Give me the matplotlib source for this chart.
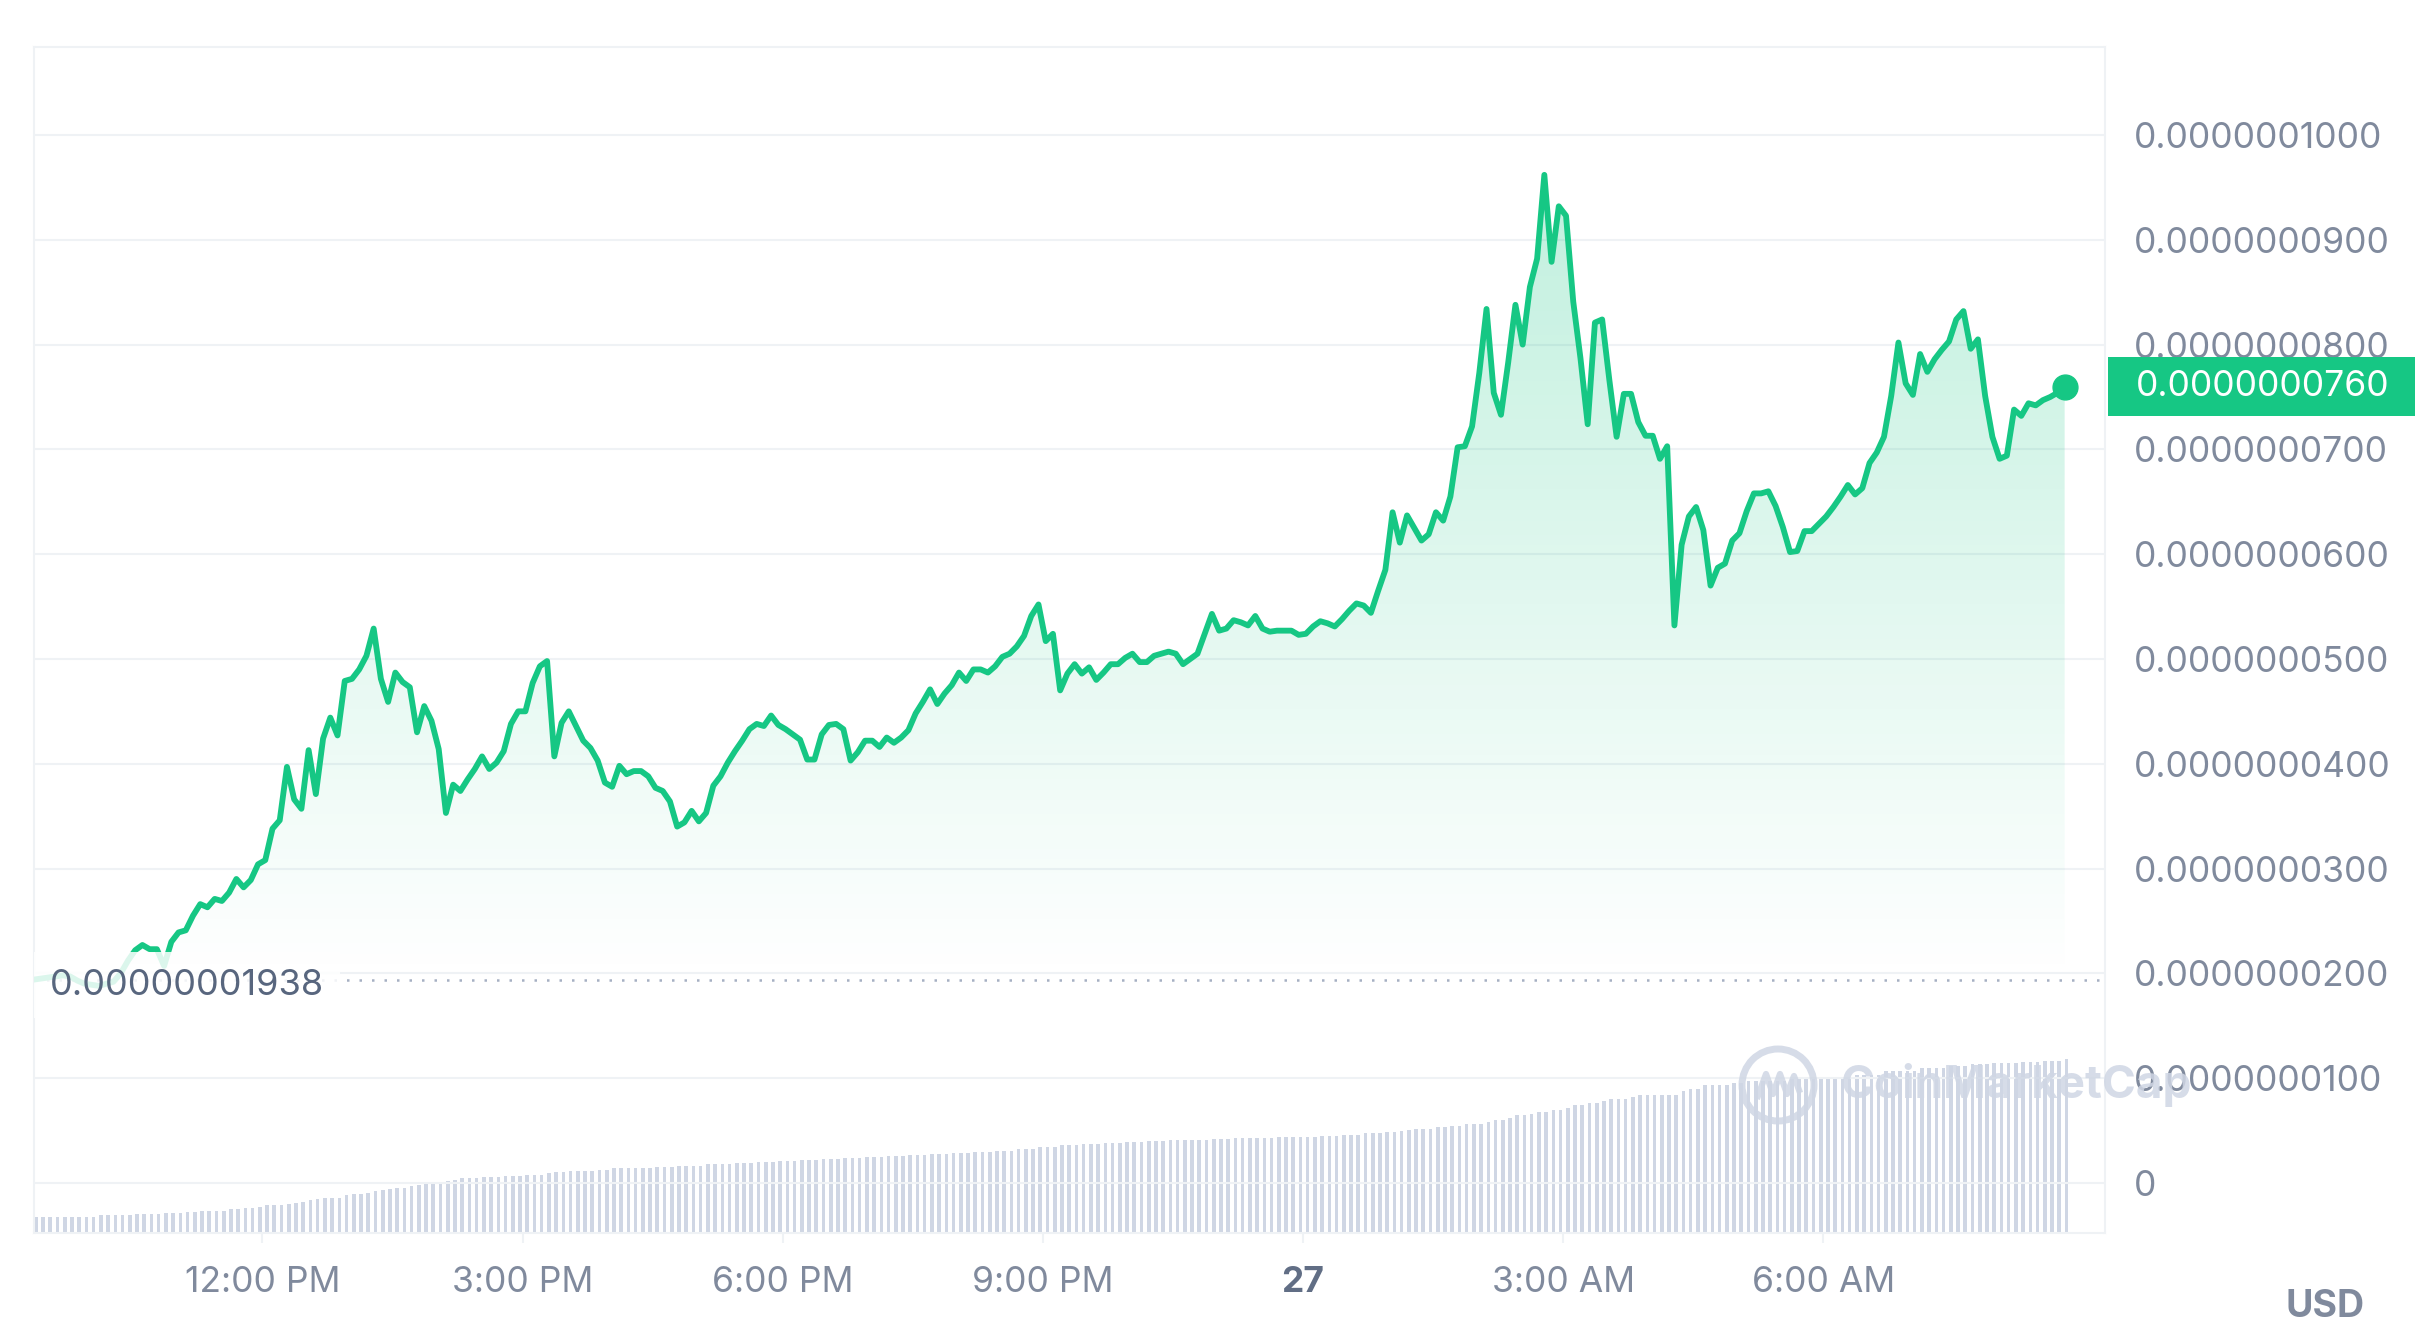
import matplotlib
matplotlib.use('Agg')
import matplotlib.pyplot as plt
import matplotlib.dates as mdates
import matplotlib.transforms as mtransforms
from matplotlib.colors import ListedColormap, to_rgb
from matplotlib.patches import Rectangle, Circle
from matplotlib.lines import Line2D
import numpy as np
import pandas as pd

plt.rcParams['font.family'] = ['Inter', 'DejaVu Sans']

# price in units of 1e-8 USD, one point every 5 minutes
price_e8 = [
    1.94, 1.95, 1.96, 1.97, 1.98, 1.97, 1.93, 1.90, 1.89, 1.88, 1.90, 1.92,
    2.00, 2.12, 2.22, 2.27, 2.23, 2.23, 2.07, 2.30, 2.39, 2.41, 2.55, 2.66,
    2.63, 2.71, 2.69, 2.77, 2.90, 2.82, 2.89, 3.04, 3.08, 3.38, 3.46, 3.97,
    3.66, 3.57, 4.13, 3.71, 4.24, 4.44, 4.27, 4.79, 4.81, 4.90, 5.03, 5.29,
    4.81, 4.59, 4.87, 4.78, 4.73, 4.30, 4.55, 4.41, 4.14, 3.53, 3.80, 3.74,
    3.85, 3.95, 4.07, 3.95, 4.01, 4.12, 4.38, 4.50, 4.50, 4.77, 4.93, 4.98,
    4.07, 4.39, 4.50, 4.36, 4.22, 4.15, 4.03, 3.82, 3.78, 3.98, 3.90, 3.93,
    3.93, 3.88, 3.77, 3.74, 3.64, 3.40, 3.44, 3.55, 3.45, 3.53, 3.79, 3.88,
    4.01, 4.12, 4.22, 4.33, 4.38, 4.36, 4.46, 4.37, 4.33, 4.28, 4.23, 4.04,
    4.04, 4.28, 4.37, 4.38, 4.33, 4.03, 4.11, 4.22, 4.22, 4.16, 4.25, 4.20,
    4.25, 4.32, 4.48, 4.59, 4.71, 4.57, 4.67, 4.75, 4.87, 4.79, 4.90, 4.90,
    4.87, 4.93, 5.02, 5.05, 5.12, 5.22, 5.41, 5.52, 5.17, 5.24, 4.70, 4.86,
    4.95, 4.86, 4.92, 4.80, 4.87, 4.95, 4.95, 5.01, 5.05, 4.97, 4.97, 5.03,
    5.05, 5.07, 5.05, 4.95, 5.00, 5.05, 5.24, 5.43, 5.27, 5.29, 5.37, 5.35,
    5.32, 5.41, 5.29, 5.26, 5.27, 5.27, 5.27, 5.23, 5.24, 5.31, 5.36, 5.34,
    5.31, 5.38, 5.46, 5.53, 5.51, 5.44, 5.65, 5.85, 6.40, 6.11, 6.37, 6.25,
    6.13, 6.19, 6.40, 6.32, 6.55, 7.02, 7.03, 7.22, 7.73, 8.34, 7.54, 7.33,
    7.83, 8.38, 8.00, 8.55, 8.82, 9.62, 8.79, 9.32, 9.23, 8.41, 7.87, 7.24,
    8.21, 8.24, 7.66, 7.12, 7.53, 7.53, 7.26, 7.13, 7.13, 6.91, 7.03, 5.32,
    6.09, 6.36, 6.45, 6.23, 5.70, 5.87, 5.91, 6.13, 6.20, 6.41, 6.58, 6.58,
    6.60, 6.46, 6.26, 6.02, 6.03, 6.22, 6.22, 6.29, 6.36, 6.45, 6.55, 6.66,
    6.57, 6.63, 6.87, 6.97, 7.12, 7.51, 8.02, 7.63, 7.52, 7.91, 7.74, 7.86,
    7.95, 8.03, 8.24, 8.32, 7.96, 8.05, 7.51, 7.12, 6.91, 6.94, 7.38, 7.32,
    7.44, 7.42, 7.47, 7.50, 7.54, 7.60,
]

# 24h volume (arbitrary units) per 5 minute bar
volume_k = [
    16.0, 16.0, 16.0, 16.0, 16.0, 16.0, 16.0, 16.0, 16.0, 17.7, 17.7, 17.7,
    17.7, 17.7, 18.7, 18.7, 18.7, 18.7, 19.7, 19.7, 19.7, 21.0, 21.0, 22.3,
    22.3, 22.3, 22.3, 23.7, 23.7, 25.0, 25.0, 26.3, 27.7, 27.7, 27.7, 28.7,
    30.0, 31.3, 32.7, 34.0, 35.3, 35.3, 35.3, 37.7, 39.0, 39.0, 40.3, 41.7,
    43.0, 44.3, 45.3, 45.3, 46.7, 48.0, 49.3, 49.3, 50.7, 52.0, 53.3, 54.7,
    54.7, 54.7, 55.7, 55.7, 55.7, 57.0, 57.0, 57.0, 58.3, 58.3, 58.3, 59.7,
    61.0, 61.0, 62.0, 62.0, 62.0, 62.0, 63.3, 63.3, 64.7, 64.7, 64.7, 64.7,
    64.7, 64.7, 66.0, 66.0, 66.0, 67.3, 67.3, 67.3, 67.3, 68.7, 68.7, 68.7,
    68.7, 69.5, 69.5, 69.5, 70.5, 70.5, 70.5, 72.0, 72.0, 72.0, 73.0, 73.0,
    73.0, 74.0, 74.0, 74.0, 75.0, 75.0, 75.0, 76.0, 76.0, 76.0, 77.0, 77.0,
    77.0, 78.0, 78.0, 78.0, 79.0, 79.0, 79.0, 80.0, 80.0, 80.0, 81.0, 81.0,
    81.0, 82.0, 82.0, 82.0, 83.5, 83.5, 83.5, 85.5, 85.5, 85.5, 87.5, 87.5,
    87.5, 89.0, 89.0, 89.0, 90.0, 90.0, 90.0, 91.0, 91.0, 91.0, 92.0, 92.0,
    92.0, 92.5, 92.5, 92.5, 93.0, 93.0, 93.0, 94.0, 94.0, 94.0, 94.5, 94.5,
    94.5, 95.0, 95.0, 95.0, 95.5, 95.5, 95.5, 96.0, 96.0, 96.0, 97.0, 97.0,
    97.0, 98.0, 98.0, 98.0, 99.5, 99.5, 99.5, 100.7, 100.7, 101.7, 102.7, 104.3,
    104.3, 104.3, 105.7, 105.7, 107.0, 107.0, 109.3, 109.3, 109.3, 111.0, 113.3, 113.3,
    114.7, 117.7, 117.7, 119.0, 120.7, 120.7, 123.0, 123.0, 124.7, 127.7, 127.7, 129.7,
    129.7, 131.7, 134.0, 134.0, 134.0, 135.7, 137.7, 137.7, 137.7, 137.7, 137.7, 137.7,
    142.3, 144.3, 144.3, 147.7, 147.7, 147.7, 148.3, 150.3, 150.3, 152.0, 152.0, 152.0,
    152.0, 152.0, 152.0, 154.0, 154.0, 154.0, 154.0, 154.0, 154.0, 155.7, 155.7, 155.7,
    158.3, 158.3, 158.3, 158.3, 161.7, 161.7, 161.7, 161.7, 161.7, 165.0, 165.0, 165.0,
    165.0, 167.3, 167.3, 167.3, 168.7, 168.7, 168.7, 169.7, 169.7, 169.7, 169.7, 171.0,
    171.0, 171.0, 172.3, 172.3, 172.3, 173.7,
]

times = pd.date_range('2024-03-26 09:22', periods=len(price_e8), freq='5min')
base_e8 = 1.938
tick_times = pd.to_datetime(['2024-03-26 12:00', '2024-03-26 15:00', '2024-03-26 18:00',
                             '2024-03-26 21:00', '2024-03-27 00:00', '2024-03-27 03:00',
                             '2024-03-27 06:00'])
tick_labels = ['12:00 PM', '3:00 PM', '6:00 PM', '9:00 PM', '27', '3:00 AM', '6:00 AM']
y_ticks_e8 = [0, 1, 2, 3, 4, 5, 6, 7, 8, 9, 10]

green = '#16c784'
grey_txt = '#808a9d'
grid_c = '#eff2f5'
bar_c = '#cfd6e4'
fs = 25.5

price = np.array(price_e8) * 1e-8
base = base_e8 * 1e-8
x = mdates.date2num(times)
step = x[1] - x[0]

fig = plt.figure(figsize=(24.3, 13.4), dpi=100, facecolor='white')
ax = fig.add_axes([0.0140, 0.0799, 0.8523, 0.8850])
ax2 = ax.twinx()
ax.set_zorder(2)
ax2.set_zorder(1)
ax.patch.set_visible(False)

# volume bars
ax2.bar(x, volume_k, width=0.5 * step, align='edge', color=bar_c, linewidth=0)
ax2.set_ylim(0, 1185)
ax2.set_yticks([])
for s in ax2.spines.values():
    s.set_visible(False)

# gradient area under the price, down to the opening price
poly = ax.fill_between(x, price, base, facecolor='none', edgecolor='none')
cols = np.zeros((256, 4))
cols[:, :3] = to_rgb(green)
cols[:, 3] = np.linspace(0.0, 0.30, 256)
img = ax.imshow(np.linspace(0, 1, 256).reshape(-1, 1), cmap=ListedColormap(cols),
                origin='lower', aspect='auto', interpolation='bicubic',
                extent=[x[0], x[-1], base, 10.5e-8], zorder=2)
img.set_clip_path(poly.get_paths()[0], transform=ax.transData)

ax.axhline(base, color='#a6b0c3', lw=1.8, ls=(0, (1, 4)), zorder=3)
ax.plot(x, price, color=green, lw=4.2, solid_joinstyle='round', zorder=4)
ax.scatter(x[-1], price[-1], s=320, color=green, zorder=7, clip_on=False)

trans = mtransforms.blended_transform_factory(ax.transAxes, ax.transData)
ax.text(0.0077, base - 0.05e-8, '0.00000001938', transform=trans, ha='left', va='center',
        fontsize=fs + 0.5, color='#58667e', zorder=5,
        bbox=dict(boxstyle='square,pad=0.45', fc='white', ec='none', alpha=0.85))

# current price tag
ax.add_patch(Rectangle((1.0014, price[-1] - 0.282e-8), 0.1482, 0.564e-8, transform=trans,
                       facecolor=green, edgecolor='none', clip_on=False, zorder=6))
ax.text(1.0150, price[-1], '%.10f' % price[-1], transform=trans, ha='left', va='center',
        fontsize=fs, color='white', zorder=7, clip_on=False)

ax.set_yticks(np.array(y_ticks_e8) * 1e-8)
ax.set_yticklabels(['0' if v == 0 else '%.10f' % (v * 1e-8) for v in y_ticks_e8])
ax.yaxis.tick_right()
ax.tick_params(axis='y', length=0, pad=21, labelsize=fs, labelcolor=grey_txt)
ax.grid(axis='y', color=grid_c, lw=1.5)
ax.set_axisbelow(True)

ax.set_xticks(mdates.date2num(tick_times))
ax.set_xticklabels(tick_labels)
ax.tick_params(axis='x', length=7, width=1.5, color=grid_c, pad=17, labelsize=fs,
               labelcolor=grey_txt)
for lab in ax.get_xticklabels():
    if lab.get_text() == '27':
        lab.set_fontweight('bold')
        lab.set_color('#616e85')

for s in ax.spines.values():
    s.set_color(grid_c)
    s.set_linewidth(1.5)

ax.set_xlim(x[0], x[0] + 286.6 * step)
ax.set_ylim(-0.478e-8, 10.84e-8)

# watermark
wm = '#cfd6e4'
fig.add_artist(Circle((17.78, 2.55), 0.36, transform=fig.dpi_scale_trans, fill=False,
                      edgecolor=wm, lw=5, zorder=10, alpha=0.85))
fig.add_artist(Line2D([17.58, 17.66, 17.73, 17.80, 17.87, 17.94, 17.99],
                      [2.44, 2.66, 2.46, 2.66, 2.46, 2.64, 2.50],
                      transform=fig.dpi_scale_trans, color=wm, lw=4.5, zorder=10, alpha=0.85))
fig.text(0.7576, 0.1903, 'CoinMarketCap', ha='left', va='center', fontsize=33,
         fontweight='bold', color=wm, alpha=0.85, zorder=10)

fig.text(0.9568, 0.0246, 'USD', ha='center', va='center', fontsize=27,
         fontweight='bold', color=grey_txt)

fig.savefig('out.png', dpi=100, facecolor='white')
